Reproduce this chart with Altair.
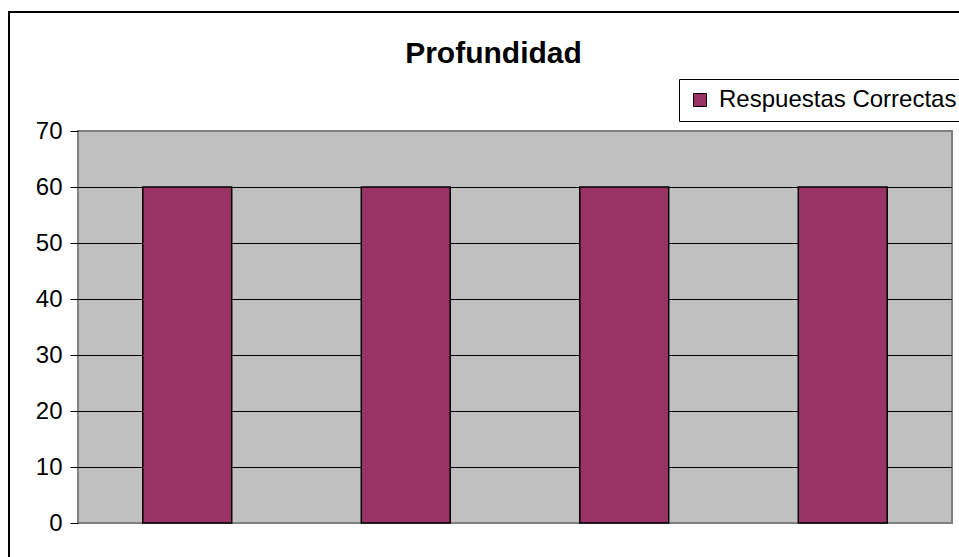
import altair as alt
import pandas as pd

# Chart data
preguntas = ["1", "2", "3", "4"]
respuestas_correctas = [60, 60, 60, 60]
serie = "Respuestas Correctas"
y_ticks = [0, 10, 20, 30, 40, 50, 60, 70]
grid_lines = [10, 20, 30, 40, 50, 60]
titulo = "Profundidad"

FONT = "Liberation Sans"
BAR_COLOR = "#993366"

df = pd.DataFrame({
    "pregunta": preguntas,
    "valor": respuestas_correctas,
    "serie": [serie] * len(preguntas),
})
grid_df = pd.DataFrame({"valor": grid_lines})
title_df = pd.DataFrame({"t": [titulo]})
frame_df = pd.DataFrame({"k": [0]})

y_scale = alt.Scale(domain=[0, 70], nice=False, zero=True)
y_axis = alt.Axis(
    values=y_ticks,
    title=None,
    grid=False,
    domain=False,
    ticks=True,
    tickColor="black",
    tickSize=8,
    tickWidth=1,
    labelFont=FONT,
    labelFontSize=24,
    labelColor="black",
    labelPadding=8,
)

# horizontal gridlines behind the bars
grid = alt.Chart(grid_df).mark_rule(color="black", strokeWidth=1, yOffset=0.5).encode(
    y=alt.Y("valor:Q", scale=y_scale, axis=y_axis)
)

bars = alt.Chart(df).mark_bar(stroke="black", strokeWidth=1.5, opacity=1).encode(
    x=alt.X(
        "pregunta:N",
        sort=preguntas,
        scale=alt.Scale(paddingInner=0.593, paddingOuter=0.2965),
        axis=alt.Axis(labels=False, ticks=False, domain=False, title=None, grid=False),
    ),
    y=alt.Y("valor:Q", scale=y_scale, axis=y_axis),
    color=alt.Color(
        "serie:N",
        scale=alt.Scale(range=[BAR_COLOR]),
        legend=alt.Legend(
            title=None,
            orient="none",
            legendX=601,
            legendY=-52,
            fillColor="white",
            strokeColor="black",
            padding=9,
            symbolType="square",
            symbolSize=169,
            symbolStrokeColor="black",
            symbolStrokeWidth=1,
            symbolOpacity=1,
            labelFont=FONT,
            labelFontSize=24,
            labelColor="black",
            labelOffset=7,
            labelLimit=0,
        ),
    ),
)

title = alt.Chart(title_df).mark_text(
    font=FONT, fontSize=30, fontWeight="bold", color="black",
    align="center", baseline="alphabetic",
).encode(text="t:N", x=alt.value(415.5), y=alt.value(-68))

# outer chart frame
frame_left = alt.Chart(frame_df).mark_rule(color="black", strokeWidth=2).encode(
    x=alt.value(-69), y=alt.value(-119), y2=alt.value(440)
)
frame_top = alt.Chart(frame_df).mark_rule(color="black", strokeWidth=2).encode(
    x=alt.value(-70), x2=alt.value(900), y=alt.value(-119)
)

chart = alt.layer(grid, bars, title, frame_left, frame_top).properties(
    width=874,
    height=392,
    background="white",
    autosize=alt.AutoSizeParams(type="none"),
    padding={"left": 78, "top": 131, "right": 7, "bottom": 34},
).configure_view(
    fill="#C0C0C0",
    stroke="#808080",
    strokeWidth=2,
)

chart.save("out.html", embed_options={"renderer": "svg", "actions": False})
